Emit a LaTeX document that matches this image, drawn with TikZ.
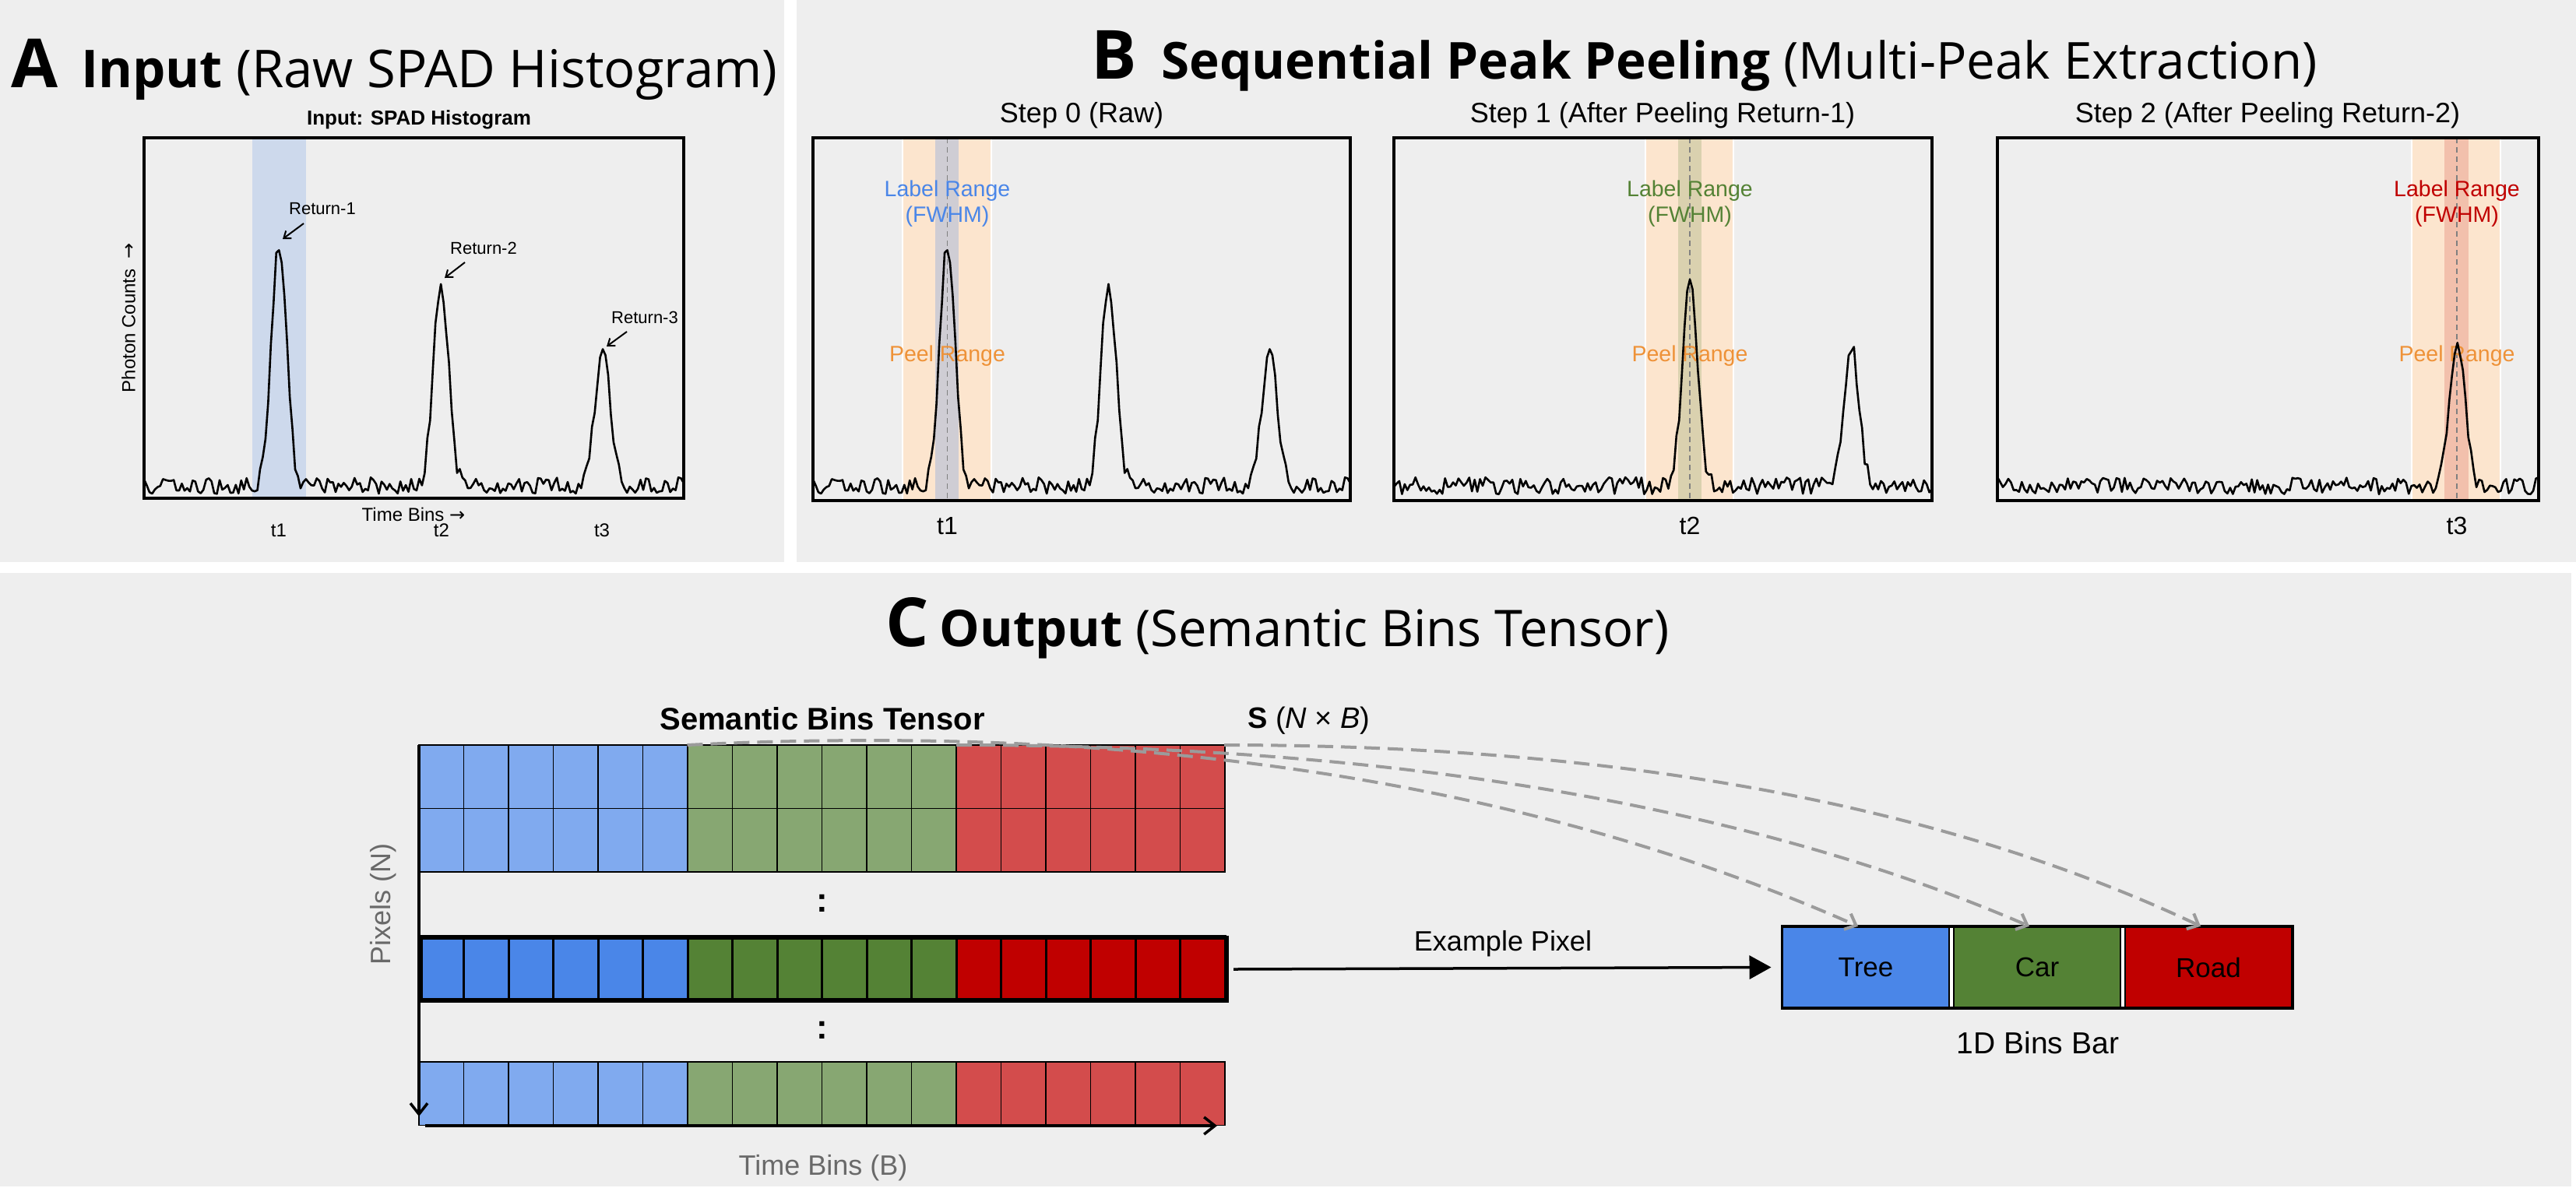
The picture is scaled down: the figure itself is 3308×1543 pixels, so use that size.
\documentclass[tikz,border=0pt]{standalone}
\usepackage{fontspec}
\setmainfont{Liberation Sans}
\newfontfamily\titlefont{Open Sans}
\newfontfamily\arrowfont{DejaVu Sans}
\usetikzlibrary{arrows.meta}
\definecolor{panelbg}{RGB}{238,238,238}
\definecolor{cblue}{HTML}{4A86E8}
\definecolor{cgreen}{HTML}{548235}
\definecolor{cred}{HTML}{C00000}
\definecolor{corange}{RGB}{238,146,56}
\definecolor{peach}{RGB}{252,229,206}
\definecolor{axgray}{RGB}{105,105,105}
\definecolor{dashgray}{RGB}{155,155,155}
\colorlet{lblue}{cblue!70!white}
\colorlet{lgreen}{cgreen!70!white}
\colorlet{lred}{cred!70!white}
\begin{document}
\begin{tikzpicture}[x=1pt,y=-1pt,
  declare function={pk(\t,\c,\a)=\a*exp(max(-9,-0.5*((\t-\c)/2.8)*((\t-\c)/2.8)));},
  txt/.style={inner sep=0pt, anchor=base},
  axframe/.style={draw=black, line width=3.5pt},
  curve/.style={draw=black, line width=2.6pt, line join=round},
  peelband/.style={fill=peach},
  bandedge/.style={draw=white, line width=1.5pt},
  ctrline/.style={draw=gray, line width=1.8pt, dash pattern=on 7pt off 5pt},
  steptitle/.style={txt, font=\fontsize{36}{40}\selectfont},
  bandlbl/.style={txt, font=\fontsize{28.5}{32}\selectfont},
  ticklbl/.style={txt, font=\fontsize{32}{36}\selectfont},
  lcell/.style={draw=black, line width=1.5pt},
  xcell/.style={draw=black, line width=3pt},
  dashcurve/.style={draw=dashgray, line width=4pt, dash pattern=on 20pt off 10pt, -{Straight Barb[length=12pt,width=22pt]}},
  axarrow/.style={draw=black, line width=3.5pt, -{Straight Barb[length=14pt,width=22pt]}},
  bincell/.style={draw=black, line width=2.5pt, minimum width=214pt, minimum height=103pt, inner sep=0pt, font=\fontsize{35}{40}\selectfont},
  retarrow/.style={draw=black, line width=2pt, -{Straight Barb[length=8pt,width=12pt]}}
]
\useasboundingbox (0,0) rectangle (3308,1543);
\fill[white] (0,0) rectangle (3308,1543);
% panels
\fill[panelbg] (0,0) rectangle (1007,722);
\fill[panelbg] (1023,0) rectangle (3308,722);
\fill[panelbg] (0,736) rectangle (3302,1524);

% ---------------- Panel A ----------------
\node[txt, anchor=base west, font=\titlefont\fontsize{67}{80}\selectfont] (titleA) at (14,112)
  {{\fontsize{87}{90}\selectfont\bfseries A}\hspace{30pt}{\bfseries Input} (Raw SPAD Histogram)};
\node[txt, font=\bfseries\fontsize{26}{30}\selectfont] (histtitle) at (538,160) {Input: SPAD Histogram};
\fill[cblue, opacity=0.2] (324,177) rectangle (393,640);
\begin{scope}[shift={(185,0)}, x=3.465pt]
  \pgfmathsetseed{7}
  \draw[curve] plot[domain=0:200, samples=201] (\x, {624 - pk(\x,50,310) - pk(\x,110,262) - pk(\x,170,180) + 22*(rnd-0.5)});
\end{scope}
\draw[axframe] (185,177) rectangle (878,640);
\node[txt, rotate=90, anchor=center, font=\fontsize{24}{28}\selectfont] (ylabA) at (165,408) {Photon Counts\ \ {\arrowfont →}};
\node[txt, font=\fontsize{24}{28}\selectfont] (xlabA) at (531,669) {Time Bins\ {\arrowfont →}};
\node[txt, font=\fontsize{24}{28}\selectfont] (tA1) at (358,689) {t1};
\node[txt, font=\fontsize{24}{28}\selectfont] (tA2) at (567,689) {t2};
\node[txt, font=\fontsize{24}{28}\selectfont] (tA3) at (773,689) {t3};
\node[txt, font=\fontsize{22}{26}\selectfont] (ret1) at (414,275) {Return-1};
\node[txt, font=\fontsize{22}{26}\selectfont] (ret2) at (621,326) {Return-2};
\node[txt, font=\fontsize{22}{26}\selectfont] (ret3) at (828,415) {Return-3};
\coordinate (p1) at (363,307);
\coordinate (p2) at (571,357);
\coordinate (p3) at (779,445);
\draw[retarrow] (390,287) -- (p1);
\draw[retarrow] (597,337) -- (p2);
\draw[retarrow] (805,426) -- (p3);

% ---------------- Panel B ----------------
\node[txt, anchor=base west, font=\titlefont\fontsize{65.5}{80}\selectfont] (titleB) at (1401,101)
  {{\fontsize{87}{90}\selectfont\bfseries B}\hspace{32pt}{\bfseries Sequential Peak Peeling} (Multi-Peak Extraction)};

% Step 0
\node[steptitle] (st0) at (1389,157) {Step 0 (Raw)};
\fill[peelband] (1159,177) rectangle (1273,643);
\draw[bandedge] (1159,177) -- (1159,643) (1273,177) -- (1273,643);
\fill[cblue, opacity=0.25] (1201,177) rectangle (1231,643);
\draw[ctrline] (1216.5,177) -- (1216.5,643);
\node[bandlbl, text=cblue] (lr0a) at (1216.5,252.6) {Label Range};
\node[bandlbl, text=cblue] (lr0b) at (1216.5,285) {(FWHM)};
\node[bandlbl, text=corange] (pr0) at (1216.5,464) {Peel Range};
\begin{scope}[shift={(1044,0)}, x=3.45pt]
  \pgfmathsetseed{7}
  \draw[curve] plot[domain=0:200, samples=201] (\x, {624 - pk(\x,50,310) - pk(\x,110,262) - pk(\x,170,180) + 22*(rnd-0.5)});
\end{scope}
\draw[axframe] (1044,177) rectangle (1734,643);
\node[ticklbl] (tB1) at (1216.5,686) {t1};

% Step 1
\node[steptitle] (st1) at (2135,157) {Step 1 (After Peeling Return-1)};
\fill[peelband] (2113,177) rectangle (2226,643);
\draw[bandedge] (2113,177) -- (2113,643) (2226,177) -- (2226,643);
\fill[cgreen, opacity=0.2] (2155,177) rectangle (2185,643);
\draw[ctrline] (2170,177) -- (2170,643);
\node[bandlbl, text=cgreen] (lr1a) at (2170,252.6) {Label Range};
\node[bandlbl, text=cgreen] (lr1b) at (2170,285) {(FWHM)};
\node[bandlbl, text=corange] (pr1) at (2170,464) {Peel Range};
\begin{scope}[shift={(1790,0)}, x=3.455pt]
  \pgfmathsetseed{19}
  \draw[curve] plot[domain=0:200, samples=201] (\x, {624 - pk(\x,110,262) - pk(\x,170,180) + 22*(rnd-0.5)});
\end{scope}
\draw[axframe] (1790,177) rectangle (2481,643);
\node[ticklbl] (tB2) at (2170,686) {t2};

% Step 2
\node[steptitle] (st2) at (2912,157) {Step 2 (After Peeling Return-2)};
\fill[peelband] (3097,177) rectangle (3211,643);
\draw[bandedge] (3097,177) -- (3097,643) (3211,177) -- (3211,643);
\fill[cred, opacity=0.16] (3139,177) rectangle (3170,643);
\draw[ctrline] (3155,177) -- (3155,643);
\node[bandlbl, text=cred] (lr2a) at (3155,252.6) {Label Range};
\node[bandlbl, text=cred] (lr2b) at (3155,285) {(FWHM)};
\node[bandlbl, text=corange] (pr2) at (3155,464) {Peel Range};
\begin{scope}[shift={(2565,0)}, x=3.475pt]
  \pgfmathsetseed{31}
  \draw[curve] plot[domain=0:200, samples=201] (\x, {624 - pk(\x,170,180) + 22*(rnd-0.5)});
\end{scope}
\draw[axframe] (2565,177) rectangle (3260,643);
\node[ticklbl] (tB3) at (3155,686) {t3};

% ---------------- Panel C ----------------
\node[txt, anchor=base west, font=\titlefont\fontsize{65}{80}\selectfont] (titleC) at (1137,830)
  {{\fontsize{87}{90}\selectfont\bfseries C}\hspace{14pt}{\bfseries Output} (Semantic Bins Tensor)};
\node[txt, font=\bfseries\fontsize{40}{44}\selectfont] (sbt) at (1056,937) {Semantic Bins Tensor};
\node[txt, anchor=base west, font=\fontsize{38}{42}\selectfont] (sdim) at (1602,935) {{\bfseries S} (\textit{N} × \textit{B})};

% light rows
\foreach \rowy in {957,1038.5,1364}{
  \foreach \i in {0,...,5}{\filldraw[lcell, fill=lblue] ({538+57.5*\i},\rowy) rectangle ++(57.5,81.5);}
  \foreach \i in {6,...,11}{\filldraw[lcell, fill=lgreen] ({538+57.5*\i},\rowy) rectangle ++(57.5,81.5);}
  \foreach \i in {12,...,17}{\filldraw[lcell, fill=lred] ({538+57.5*\i},\rowy) rectangle ++(57.5,81.5);}
}
% example row
\foreach \i in {0,...,5}{\filldraw[xcell, fill=cblue] ({538+57.5*\i},1202) rectangle ++(57.5,81);}
\foreach \i in {6,...,11}{\filldraw[xcell, fill=cgreen] ({538+57.5*\i},1202) rectangle ++(57.5,81);}
\foreach \i in {12,...,17}{\filldraw[xcell, fill=cred] ({538+57.5*\i},1202) rectangle ++(57.5,81);}
\node[draw=black, line width=5pt, minimum width=1035pt, minimum height=81pt, inner sep=0pt, anchor=north west] (exrow) at (538,1202) {};

\node[anchor=center, inner sep=0pt, font=\bfseries\fontsize{44}{48}\selectfont] (dots1) at (1056,1160) {:};
\node[anchor=center, inner sep=0pt, font=\bfseries\fontsize{44}{48}\selectfont] (dots2) at (1056,1323) {:};

% axes of tensor
\coordinate (vtop) at (538,957);
\coordinate (vbot) at (538,1434);
\coordinate (hleft) at (546,1446);
\coordinate (hright) at (1563,1446);
\draw[axarrow] (vtop) -- (vbot);
\draw[axarrow] (hleft) -- (hright);
\node[anchor=center, inner sep=0pt, rotate=90, text=axgray, font=\fontsize{36}{40}\selectfont] (pixlbl) at (492,1161) {Pixels (N)};
\node[anchor=center, inner sep=0pt, text=axgray, font=\fontsize{36}{40}\selectfont] (tblbl) at (1057,1500) {Time Bins (B)};

% bins bar
\node[draw=black, line width=4pt, fill=white, minimum width=655pt, minimum height=105pt, inner sep=0pt] (bar) at (2616,1242.5) {};
\node[bincell, fill=cblue] (tree) at (2396,1242.5) {Tree};
\node[bincell, fill=cgreen] (car) at (2616,1242.5) {Car};
\node[bincell, fill=cred] (road) at (2836,1242.5) {Road};
\node[txt, font=\fontsize{39}{44}\selectfont] (barlbl) at (2617,1353) {1D Bins Bar};

% example pixel arrow
\node[txt, font=\fontsize{36}{40}\selectfont] (exlbl) at (1930,1221) {Example Pixel};
\draw[line width=3.5pt, -{Triangle[length=28pt,width=30pt]}] ([xshift=6pt]exrow.east) -- ([xshift=-12pt]bar.west);

% dashed mapping curves
\coordinate (s1) at (882.5,957);
\coordinate (s2) at (1228,957);
\coordinate (s3) at (1572,957);
\coordinate (e1) at ([xshift=-10pt]tree.north);
\coordinate (e2) at ([xshift=-10pt]car.north);
\coordinate (e3) at ([xshift=-10pt]road.north);
\draw[dashcurve] (s1) .. controls (1466,928) and (1967,1005) .. (e1);
\draw[dashcurve] (s2) .. controls (1786,957) and (2245,1034) .. (e2);
\draw[dashcurve] (s3) .. controls (2079,957) and (2496,1034) .. (e3);
\end{tikzpicture}
\end{document}
